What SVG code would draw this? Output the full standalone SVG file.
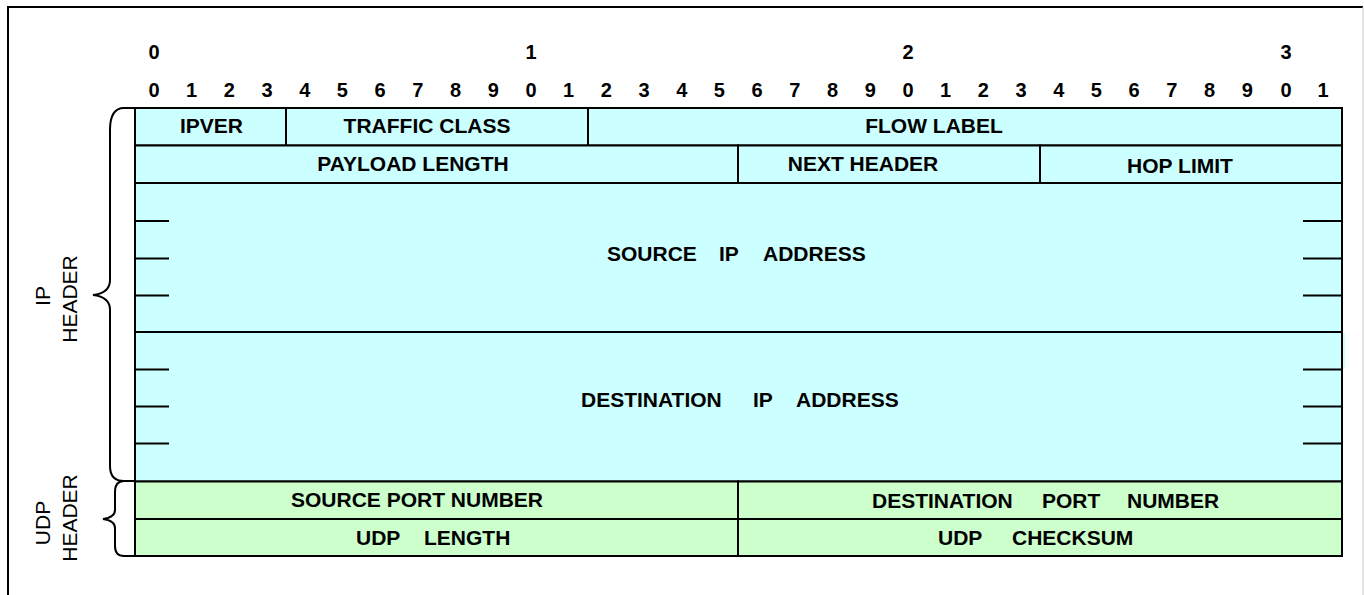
<svg xmlns="http://www.w3.org/2000/svg" width="1364" height="595" viewBox="0 0 1364 595">
<style>
.cell{stroke:#000;stroke-width:2}
.ip{fill:#CCFFFF}
.udp{fill:#CCFFCC}
.ln{stroke:#000;stroke-width:2;fill:none}
.lbl{font-family:"Liberation Sans",Arial,sans-serif;font-weight:bold;font-size:21px;fill:#000}
.mid{text-anchor:middle}
.dig{font-family:"Liberation Sans",Arial,sans-serif;font-weight:bold;font-size:20px;fill:#000;text-anchor:middle}
.side{font-family:"Liberation Sans",Arial,sans-serif;font-size:21px;fill:#000;text-anchor:middle}
</style>
<rect x="0" y="0" width="1364" height="595" fill="#fff"/>
<g id="frame">
<line x1="8" y1="7" x2="8" y2="595" stroke="#000" stroke-width="2"/>
<line x1="7" y1="7" x2="1363" y2="7" stroke="#000" stroke-width="2"/>
<line x1="1363" y1="7" x2="1363" y2="595" stroke="#ccc" stroke-width="1"/>
</g>
<g id="bit-numbers">
<text class="dig" x="154" y="59">0</text>
<text class="dig" x="531" y="59">1</text>
<text class="dig" x="908" y="59">2</text>
<text class="dig" x="1286" y="59">3</text>
<text class="dig" y="97"><tspan x="154">0</tspan><tspan x="191.6">1</tspan><tspan x="229.3">2</tspan><tspan x="267">3</tspan><tspan x="304.7">4</tspan><tspan x="342.4">5</tspan><tspan x="380.1">6</tspan><tspan x="417.8">7</tspan><tspan x="455.5">8</tspan><tspan x="493.2">9</tspan><tspan x="531">0</tspan><tspan x="568.6">1</tspan><tspan x="606.3">2</tspan><tspan x="644">3</tspan><tspan x="681.7">4</tspan><tspan x="719.4">5</tspan><tspan x="757.1">6</tspan><tspan x="794.8">7</tspan><tspan x="832.5">8</tspan><tspan x="870.2">9</tspan><tspan x="908">0</tspan><tspan x="945.6">1</tspan><tspan x="983.3">2</tspan><tspan x="1021">3</tspan><tspan x="1058.7">4</tspan><tspan x="1096.4">5</tspan><tspan x="1134.1">6</tspan><tspan x="1171.8">7</tspan><tspan x="1209.5">8</tspan><tspan x="1247.2">9</tspan><tspan x="1286">0</tspan><tspan x="1323">1</tspan></text>
</g>
<g id="ipver"><rect class="cell ip" x="135" y="108" width="151" height="37.5"/><text class="lbl mid" x="211.5" y="133">IPVER</text></g>
<g id="traffic-class"><rect class="cell ip" x="286" y="108" width="302" height="37.5"/><text class="lbl mid" x="427" y="133">TRAFFIC CLASS</text></g>
<g id="flow-label"><rect class="cell ip" x="588" y="108" width="754" height="37.5"/><text class="lbl mid" x="934" y="133">FLOW LABEL</text></g>
<g id="payload-length"><rect class="cell ip" x="135" y="145.5" width="603" height="37.5"/><text class="lbl mid" x="413" y="171">PAYLOAD LENGTH</text></g>
<g id="next-header"><rect class="cell ip" x="738" y="145.5" width="302" height="37.5"/><text class="lbl mid" x="863" y="171">NEXT HEADER</text></g>
<g id="hop-limit"><rect class="cell ip" x="1040" y="145.5" width="302" height="37.5"/><text class="lbl mid" x="1180" y="173">HOP LIMIT</text></g>
<g id="source-ip">
<rect class="cell ip" x="135" y="183" width="1207" height="149"/>
<path class="ln" d="M135,221H169M135,258.5H169M135,295.5H169M1303,221H1342M1303,258.5H1342M1303,295.5H1342"/>
<text class="lbl" y="261"><tspan x="607">SOURCE </tspan><tspan x="719">IP </tspan><tspan x="763">ADDRESS</tspan></text>
</g>
<g id="destination-ip">
<rect x="1342" y="333" width="3" height="36" fill="#CCFFFF"/>
<rect class="cell ip" x="135" y="332" width="1207" height="149.5"/>
<path class="ln" d="M135,369.5H169M135,406.5H169M135,443.5H169M1303,369.5H1342M1303,406.5H1342M1303,443.5H1342"/>
<text class="lbl" y="407"><tspan x="581">DESTINATION </tspan><tspan x="753">IP </tspan><tspan x="796">ADDRESS</tspan></text>
</g>
<g id="source-port"><rect class="cell udp" x="135" y="481.5" width="603" height="37.5"/><text class="lbl mid" x="417" y="507">SOURCE PORT NUMBER</text></g>
<g id="destination-port"><rect class="cell udp" x="738" y="481.5" width="604" height="37.5"/><text class="lbl" y="508"><tspan x="872">DESTINATION </tspan><tspan x="1042">PORT </tspan><tspan x="1127">NUMBER</tspan></text></g>
<g id="udp-length"><rect class="cell udp" x="135" y="519" width="603" height="37"/><text class="lbl" y="545"><tspan x="356">UDP </tspan><tspan x="424">LENGTH</tspan></text></g>
<g id="udp-checksum"><rect class="cell udp" x="738" y="519" width="604" height="37"/><text class="lbl" y="545"><tspan x="938">UDP </tspan><tspan x="1012">CHECKSUM</tspan></text></g>
<g id="ip-header-brace">
<path class="ln" d="M135,108 L124,108 C114,108 110,116 110,130 L110,280 C110,290 102,294 93,295 C102,296 110,300 110,310 L110,466 C110,476 114,481 124,481 L135,481"/>
<text class="side" transform="translate(50,296) rotate(-90)">IP</text>
<text class="side" transform="translate(77,299) rotate(-90)">HEADER</text>
</g>
<g id="udp-header-brace">
<path class="ln" d="M135,481 L124,481 C118,481 115,485 115,492 L115,510 C115,515 110,518 103,519 C110,520 115,523 115,528 L115,546 C115,552 118,556 124,556 L135,556"/>
<text class="side" transform="translate(50,523) rotate(-90)">UDP</text>
<text class="side" transform="translate(77,518) rotate(-90)">HEADER</text>
</g>
</svg>
